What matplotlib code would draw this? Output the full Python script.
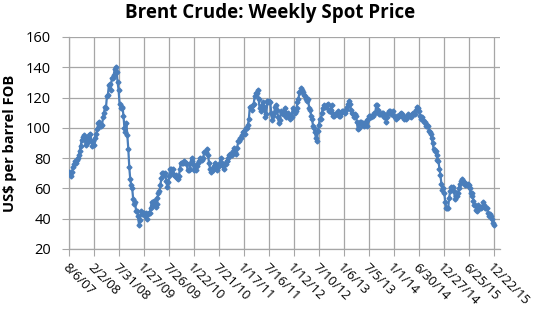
import matplotlib
matplotlib.use("Agg")
import matplotlib.pyplot as plt
import matplotlib.dates as mdates
import numpy as np
import pandas as pd

title = "Brent Crude: Weekly Spot Price"
ylabel = "US$ per barrel FOB"
start_date = "2007-08-06"

p2007 = [71, 70, 68, 71,
         74, 76, 78, 77,
         79, 80, 82, 85, 88,
         92, 94, 95, 93,
         89, 90, 91, 93, 95]
p2008 = [96, 91, 88, 91,
         89, 93, 96, 99,
         103, 104, 101, 101, 102,
         107, 110, 114, 113,
         121, 122, 128, 129,
         125, 133, 133, 135, 139,
         140, 137, 130, 125,
         116, 113, 113, 114,
         108, 100, 97, 103, 95,
         86, 74, 66, 62,
         60, 53, 50, 51,
         45, 45, 42, 36, 39]
p2009 = [45, 43, 44, 44,
         42, 44, 40, 43,
         44, 44, 47, 51, 49,
         52, 52, 48, 50,
         54, 57, 58, 62,
         67, 70, 70, 69, 70,
         65, 61, 64, 68,
         73, 73, 70, 73, 69,
         68, 69, 67, 66,
         68, 73, 77, 77,
         77, 78, 77, 77, 76,
         72, 72, 73, 77]
p2010 = [80, 78, 76, 72,
         74, 72, 75, 77,
         78, 80, 79, 79, 80,
         84, 84, 84, 86,
         82, 77, 73, 71, 73,
         72, 75, 77, 75,
         72, 75, 75, 77,
         80, 77, 75, 73, 76,
         76, 78, 78, 80,
         82, 83, 82, 82,
         85, 87, 84, 83, 87,
         91, 91, 93, 93]
p2011 = [95, 97, 98, 96, 100,
         100, 102, 106, 114,
         114, 112, 115, 116,
         121, 123, 123, 125,
         119, 113, 111, 113, 115,
         117, 114, 107, 109,
         118, 117, 118, 117,
         110, 105, 108, 110, 114,
         115, 112, 107, 103,
         105, 111, 110, 109, 111,
         113, 107, 109, 110,
         108, 106, 108, 107]
p2012 = [113, 111, 110, 111, 113,
         117, 119, 124, 124,
         126, 125, 124, 122,
         121, 119, 118, 119, 113,
         112, 108, 106, 101,
         100, 97, 93, 91,
         98, 102, 106, 106, 110,
         113, 115, 114, 114,
         115, 116, 111, 112,
         112, 115, 110, 108, 108,
         109, 109, 110, 111,
         108, 108, 110, 111, 111]
p2013 = [111, 110, 112, 114,
         116, 118, 116, 112,
         110, 109, 107, 109,
         108, 104, 99, 100, 104,
         104, 102, 103, 101,
         103, 104, 105, 101,
         106, 108, 108, 107, 108,
         108, 110, 110, 115,
         115, 112, 109, 109, 109,
         110, 110, 107, 108,
         104, 107, 110, 111,
         111, 109, 110, 111, 108]
p2014 = [107, 106, 108, 107,
         108, 109, 110, 109,
         108, 107, 106, 107, 106,
         107, 109, 108, 108,
         107, 109, 110, 109,
         109, 112, 114, 113, 111,
         108, 106, 107, 105,
         104, 104, 101, 102,
         101, 98, 97, 96, 93,
         90, 86, 85, 85,
         82, 79, 78, 73,
         69, 63, 59, 60, 57]
p2015 = [51, 47, 47, 47,
         54, 58, 61, 59,
         61, 58, 53, 55, 55,
         57, 60, 63, 65,
         66, 65, 64, 62,
         63, 62, 63, 62, 60,
         57, 57, 55, 52,
         49, 49, 46, 45, 49,
         47, 47, 47, 48,
         51, 49, 47, 47,
         47, 44, 42, 43, 42,
         40, 37, 36]

tick_labels = ["8/6/07", "2/2/08", "7/31/08", "1/27/09", "7/26/09", "1/22/10",
               "7/21/10", "1/17/11", "7/16/11", "1/12/12", "7/10/12", "1/6/13",
               "7/5/13", "1/1/14", "6/30/14", "12/27/14", "6/25/15", "12/22/15"]
y_ticks = [20, 40, 60, 80, 100, 120, 140, 160]

prices = p2007 + p2008 + p2009 + p2010 + p2011 + p2012 + p2013 + p2014 + p2015
dates = pd.date_range(start_date, periods=len(prices), freq="7D")

tick_dates = pd.to_datetime(tick_labels, format="%m/%d/%y")

plt.rcParams['font.family'] = ['Open Sans', 'DejaVu Sans']

fig = plt.figure(figsize=(5.4, 3.12), dpi=100)
ax = fig.add_axes([69/540, 1-249/312, (500-69)/540, (249-37)/312])

line_color = "#4A7EBB"
grid_color = "#A6A6A6"

ax.plot(dates, prices, color=line_color, lw=1.6, marker="D", ms=2.5,
        mec=line_color, mfc=line_color, zorder=3)

ax.set_ylim(20, 160)
ax.set_yticks(y_ticks)
ax.set_xticks(tick_dates)
ax.set_xticklabels(tick_labels, rotation=-45, ha="left", va="top",
                   rotation_mode="anchor", fontsize=9.3)
ax.set_xlim(tick_dates[0], tick_dates[-1] + pd.Timedelta(days=43))
ax.tick_params(axis="y", labelsize=10.5, length=5, color=grid_color, pad=8)
ax.tick_params(axis="x", length=5, color=grid_color, pad=3.5)

ax.grid(True, color=grid_color, lw=0.9)
ax.set_axisbelow(True)
for s in ["top", "right"]:
    ax.spines[s].set_visible(False)
for s in ["left", "bottom"]:
    ax.spines[s].set_color(grid_color)
    ax.spines[s].set_linewidth(0.9)

ax.set_ylabel(ylabel, fontsize=10.5, fontweight="bold", labelpad=6)
fig.suptitle(title, x=0.5, y=0.99, fontsize=13.5, fontweight="bold", va="top")

fig.savefig("out.png", dpi=100)
